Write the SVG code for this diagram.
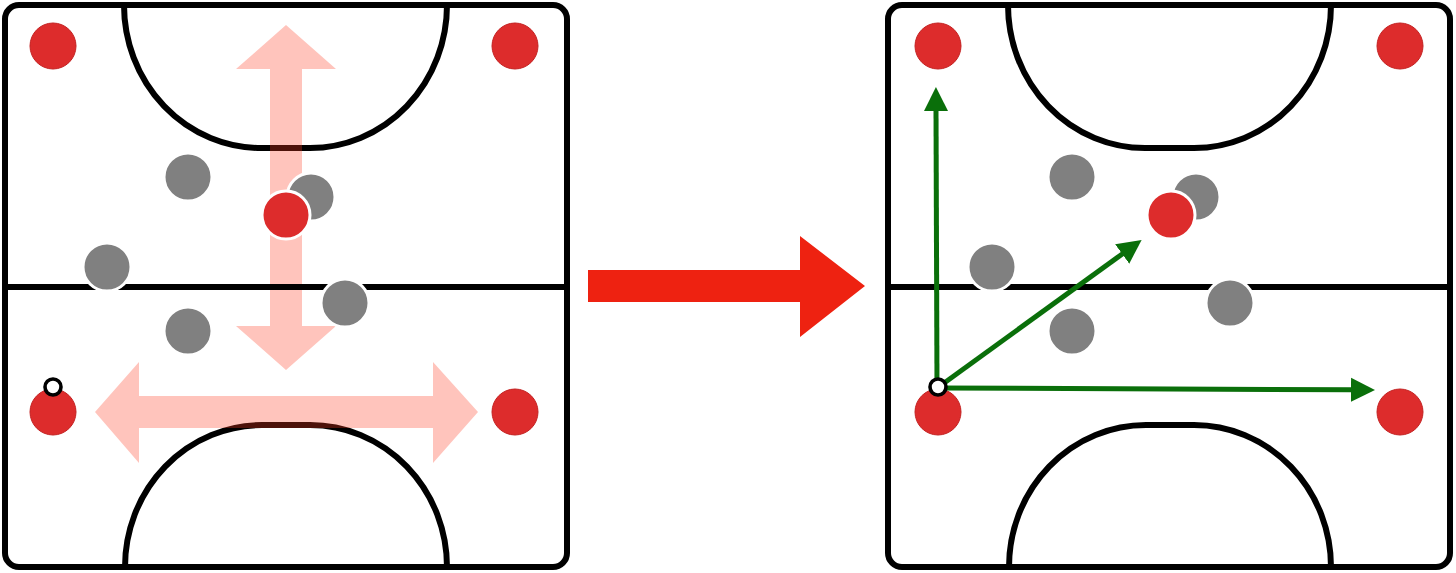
<svg xmlns="http://www.w3.org/2000/svg" width="1456" height="573" viewBox="0 0 1456 573">
<style>
.court{fill:none;stroke:#000;stroke-width:6;stroke-linejoin:round}
.red{fill:#DD2C2C;stroke:#C42222;stroke-width:1}
.redw{fill:#DD2C2C;stroke:#fff;stroke-width:3}
.gray{fill:#808080;stroke:#fff;stroke-width:3}
.ball{fill:#fff;stroke:#000;stroke-width:3.6}
.pink{fill:#FF3A20;fill-opacity:0.3}
.pass{fill:none;stroke:#0A6F0A;stroke-width:5;marker-end:url(#ah)}
</style>
<defs>
<marker id="ah" markerUnits="userSpaceOnUse" markerWidth="30" markerHeight="30" viewBox="0 -15 30 30" refX="1" refY="0" orient="auto">
<path d="M0,-12 L24,0 L0,12 z" fill="#0A6F0A"/>
</marker>
</defs>
<rect width="1456" height="573" fill="#fff"/>

<g id="court-left">
<rect class="court" x="5" y="5" width="562" height="562" rx="14"/>
<path class="court" d="M124,5 A137,143 0 0 0 261,148 L310,148 A137,143 0 0 0 447,5"/>
<path class="court" d="M125,567 A137,142 0 0 1 262,425 L310,425 A137,142 0 0 1 447,567"/>
</g>
<g id="movement-arrows">
<polygon class="pink" points="286,25 336,69 302,69 302,326 336,326 286,370 236,326 270,326 270,69 236,69"/>
<polygon class="pink" points="95,412 139,362 139,396 433,396 433,362 478,412 433,463 433,428 139,428 139,463"/>
</g>
<g id="midline-left">
<line class="court" x1="5" y1="287" x2="567" y2="287"/>
</g>
<g id="players-left">
<circle class="red" cx="53" cy="46" r="23"/>
<circle class="red" cx="515" cy="46" r="23"/>
<circle class="red" cx="53" cy="412" r="23"/>
<circle class="red" cx="515" cy="412" r="23"/>
<circle class="gray" cx="188" cy="177" r="24"/>
<circle class="gray" cx="311" cy="197" r="24"/>
<circle class="redw" cx="286" cy="215" r="24"/>
<circle class="gray" cx="107" cy="267" r="24"/>
<circle class="gray" cx="345" cy="303" r="24"/>
<circle class="gray" cx="188" cy="331" r="24"/>
<circle class="ball" cx="53" cy="387" r="8"/>
</g>

<g id="transition-arrow">
<polygon fill="#EE2211" points="588,270 800,270 800,236 865,286 800,337 800,302 588,302"/>
</g>

<g id="court-right" transform="translate(884,0)">
<rect class="court" x="4" y="5" width="562" height="562" rx="14"/>
<path class="court" d="M124,5 A137,143 0 0 0 261,148 L310,148 A137,143 0 0 0 447,5"/>
<path class="court" d="M125,567 A137,142 0 0 1 262,425 L310,425 A137,142 0 0 1 447,567"/>
<line class="court" x1="4" y1="287" x2="566" y2="287"/>
</g>
<g id="players-right" transform="translate(884,0)">
<circle class="red" cx="54" cy="46" r="23"/>
<circle class="red" cx="516" cy="46" r="23"/>
<circle class="red" cx="54" cy="412" r="23"/>
<circle class="red" cx="516" cy="412" r="23"/>
<circle class="gray" cx="188" cy="177" r="24"/>
<circle class="gray" cx="312" cy="197" r="24"/>
<circle class="redw" cx="287" cy="215" r="24"/>
<circle class="gray" cx="108" cy="267" r="24"/>
<circle class="gray" cx="346" cy="303" r="24"/>
<circle class="gray" cx="188" cy="331" r="24"/>
</g>
<g id="passes">
<line class="pass" x1="937" y1="386" x2="936" y2="110"/>
<line class="pass" x1="940" y1="386" x2="1123" y2="253.4"/>
<line class="pass" x1="940" y1="388" x2="1352" y2="389.8"/>
</g>
<g id="ball-right">
<circle class="ball" cx="938" cy="387" r="8"/>
</g>
</svg>
